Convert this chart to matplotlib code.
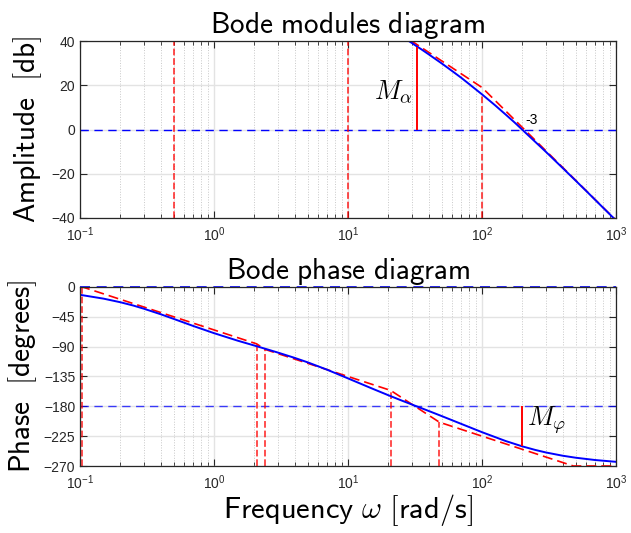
import matplotlib
matplotlib.use("Agg")
import matplotlib.pyplot as plt
import numpy as np

plt.rcParams['font.family'] = ['Liberation Sans', 'DejaVu Sans']
plt.rcParams['mathtext.fontset'] = 'cm'

# modulus curve (dB)
w_mag = [20, 25, 30, 33, 35, 40, 50, 60, 70, 80, 100, 125, 150, 175, 200,
         250, 300, 400, 500, 600, 800, 1000]
mag_db = [45.8, 42.2, 39.1, 37.4, 36.4, 34.0, 29.9, 26.4, 23.4, 20.6, 15.9,
          11.0, 6.8, 3.2, -0.1, -5.6, -10.1, -17.4, -23.1, -27.8, -35.3, -41.1]
# asymptotic modulus (corner points)
w_mag_asym = [0.1, 0.5, 10, 100, 1000]
mag_asym = [85, 85, 59, 19, -41]
# corner frequencies (vertical dashed lines) and curve level there
w_mag_corner = [0.5, 10, 100]
mag_corner_top = [40, 40, 15.9]

# phase curve (deg)
w_ph = [0.1, 0.15, 0.2, 0.25, 0.3, 0.4, 0.5, 0.6, 0.7, 1, 1.5, 2, 2.5, 3, 4, 5,
        7, 10, 15, 20, 25, 30, 40, 50, 70, 100, 150, 200, 250, 300, 400, 500,
        700, 1000]
phase = [-11.9, -17.7, -23.1, -28.1, -32.9, -41.2, -48.2, -54.0, -58.9, -69.7,
         -81.0, -88.4, -94.2, -99.0, -107.0, -113.7, -124.9, -137.9, -152.9,
         -163.3, -171.1, -177.3, -187.0, -194.7, -206.5, -219.0, -232.3, -240.4,
         -245.8, -249.6, -254.5, -257.5, -261.0, -263.7]
# asymptotic phase (corner points)
w_ph_asym = [0.1, 0.104, 2.079, 2.405, 20.79, 48.10, 481, 1000]
ph_asym = [0, 0, -85.8, -94.2, -156.0, -204.0, -270, -270]
w_ph_corner = [0.104, 2.079, 2.405, 20.79, 48.10]
ph_corner_top = [0, -85.8, -94.2, -156.0, -204.0]

# margins
w_pc, mag_pc = 33, 37.4     # phase crossover -> M_alpha
w_gc, ph_gc = 200, -240.4   # gain crossover -> M_phi

fig = plt.figure(figsize=(6.31, 5.33), dpi=100)
ax1 = fig.add_axes([0.1268, 0.591, 0.8494, 0.332])
ax2 = fig.add_axes([0.1268, 0.1257, 0.8494, 0.336])

title_kw = dict(fontsize=21, pad=2)


def style(ax):
    ax.set_xscale('log')
    ax.set_xlim(0.1, 1000)
    ax.grid(which='major', color='#e3e3e3', lw=1.0, ls='-')
    ax.grid(which='minor', axis='x', color='#c8c8c8', lw=0.7, ls=':')
    ax.set_axisbelow(True)
    ax.tick_params(which='both', direction='in', top=True, right=True,
                   labelsize=10, colors='#262626')
    ax.tick_params(which='major', length=5, width=0.8)
    ax.tick_params(which='minor', length=3, width=0.6)
    ax.tick_params(axis='x', pad=5)
    for s in ax.spines.values():
        s.set_color('#262626')
        s.set_linewidth(0.9)


# ---- modulus
style(ax1)
ax1.set_ylim(-40, 40)
ax1.set_yticks([-40, -20, 0, 20, 40])
ax1.axhline(0, color='blue', ls='--', lw=1.0, dashes=(6, 4))
ax1.vlines(w_mag_corner, -40, mag_corner_top, colors='red', linestyles='--',
           lw=1.3, alpha=0.75)
ax1.plot(w_mag_asym, mag_asym, color='red', ls='--', lw=1.2, dashes=(6, 3))
ax1.plot(w_mag, mag_db, color='blue', lw=1.4)
ax1.vlines(w_pc, 0, mag_pc, colors='red', lw=1.4)
ax1.text(30.5, 17, r'$M_\alpha$', fontsize=19, ha='right', va='center')
ax1.text(209, 1.2, '-3', fontsize=10, ha='left', va='bottom')
ax1.set_title(r'$\mathsf{Bode\ modules\ diagram}$', **title_kw)
ax1.set_ylabel(r'$\mathsf{Amplitude\ \ [db]}$', fontsize=21, labelpad=5)

# ---- phase
style(ax2)
ax2.set_ylim(-270, 0)
ax2.set_yticks([-270, -225, -180, -135, -90, -45, 0])
ax2.axhline(0, color='blue', ls='--', lw=1.2, dashes=(6, 4), clip_on=False)
ax2.axhline(-180, color='blue', ls='--', lw=1.0, dashes=(6, 4), alpha=0.75)
ax2.vlines(w_ph_corner, -270, ph_corner_top, colors='red', linestyles='--',
           lw=1.3, alpha=0.75)
ax2.plot(w_ph_asym, ph_asym, color='red', ls='--', lw=1.2, dashes=(6, 3))
ax2.plot(w_ph, phase, color='blue', lw=1.4)
ax2.vlines(w_gc, -180, ph_gc, colors='red', lw=1.4)
ax2.text(215, -201, r'$M_\varphi$', fontsize=19, ha='left', va='center')
ax2.set_title(r'$\mathsf{Bode\ phase\ diagram}$', **title_kw)
ax2.set_ylabel(r'$\mathsf{Phase\ \ [degrees]}$', fontsize=21, labelpad=3)
ax2.set_xlabel(r'$\mathsf{Frequency}\ \omega\ \mathsf{[rad/s]}$', fontsize=22,
               labelpad=0)

fig.savefig('out.png', dpi=100)
